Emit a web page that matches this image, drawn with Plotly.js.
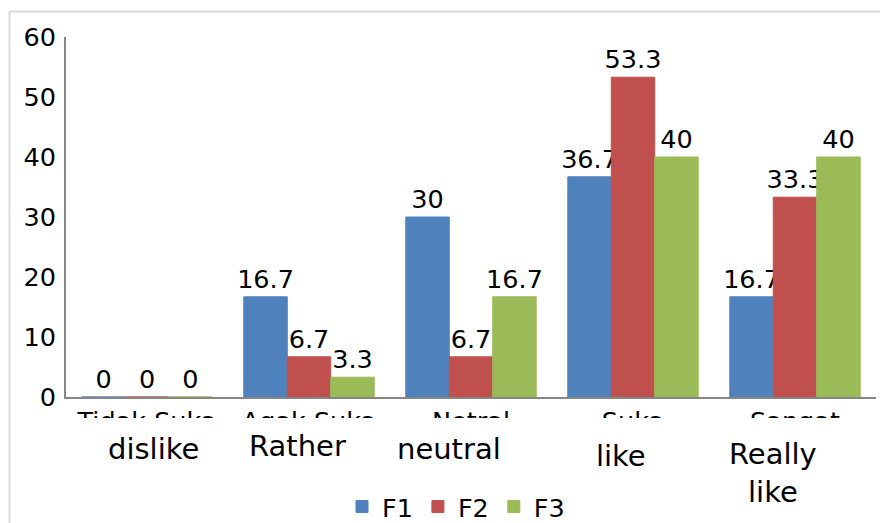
<!DOCTYPE html>
<html>
<head>
<meta charset="utf-8">
<script src="https://cdn.plot.ly/plotly-3.0.1.min.js"></script>
<style>
  html, body { margin: 0; padding: 0; background: #fff; }
  #chart { width: 880px; height: 523px; }
</style>
</head>
<body>
<div id="chart"></div>
<script>
// Categories (original Indonesian tick labels) and English overlay labels
const categories = ["Tidak Suka", "Agak Suka", "Netral", "Suka", "Sangat<br>Suka"];
const englishLabels = ["dislike", "Rather", "neutral", "like", "Really<br>like"];
const seriesNames = ["F1", "F2", "F3"];
const f1Values = [0, 16.7, 30, 36.7, 16.7];
const f2Values = [0, 6.7, 6.7, 53.3, 33.3];
const f3Values = [0, 3.3, 16.7, 40, 40];
const yTickValues = [0, 10, 20, 30, 40, 50, 60];

const colors = ["#4F81BD", "#C0504D", "#9BBB59"];
const allValues = [f1Values, f2Values, f3Values];
const font = "DejaVu Sans, Verdana, sans-serif";

const traces = allValues.map((vals, i) => ({
  type: "bar",
  name: seriesNames[i],
  x: categories,
  y: vals,
  marker: { color: colors[i], line: { color: colors[i], width: 1 } },
  text: vals.map(v => String(v)),
  textposition: "outside",
  textfont: { family: font, size: 25.5, color: "#000" },
  constraintext: "none",
  cliponaxis: false,
  hoverinfo: "x+y+name"
}));

// English label positions (pixels in the 880x523 page) converted to paper
const L = 66, W = 810, T = 37, H = 360;
const px2x = px => (px - L) / W;
const px2y = py => 1 - (py - T) / H;
const engPos = [[153, 449], [297, 446], [449, 449], [621, 456], [773, 473]];

const annotations = englishLabels.map((lab, i) => ({
  text: lab,
  xref: "paper", yref: "paper",
  x: px2x(engPos[i][0]), y: px2y(engPos[i][1]),
  xanchor: "center", yanchor: "middle",
  showarrow: false,
  font: { family: font, size: 29, color: "#000" }
}));

const layout = {
  width: 880, height: 523,
  margin: { l: L, r: 880 - L - W, t: T, b: 523 - T - H, autoexpand: false },
  paper_bgcolor: "#fff", plot_bgcolor: "#fff",
  font: { family: font, size: 25.5, color: "#000" },
  barmode: "group",
  bargap: 0.195,
  bargroupgap: 0,
  showlegend: true,
  legend: {
    orientation: "h",
    x: px2x(342), xanchor: "left",
    y: px2y(507), yanchor: "middle",
    font: { family: font, size: 25.5, color: "#000" },
    itemwidth: 30,
    tracegroupgap: 0,
    traceorder: "normal"
  },
  xaxis: {
    type: "category",
    showline: true, linecolor: "#868686", linewidth: 2,
    ticks: "", showgrid: false, zeroline: false,
    tickfont: { family: font, size: 25.5, color: "#000" },
    fixedrange: true
  },
  yaxis: {
    range: [0, 60],
    tickvals: yTickValues,
    ticktext: yTickValues.map(String),
    showline: true, linecolor: "#868686", linewidth: 2,
    ticks: "", showgrid: false, zeroline: false,
    ticklabelstandoff: 3,
    tickfont: { family: font, size: 25.5, color: "#000" },
    fixedrange: true
  },
  shapes: [
    // white box covering the lower part of the original tick labels
    { type: "rect", xref: "paper", yref: "paper", layer: "above",
      x0: px2x(20), x1: px2x(885), y0: px2y(418), y1: px2y(540),
      fillcolor: "#fff", line: { width: 0 } },
    // outer chart border (top and left visible)
    { type: "line", xref: "paper", yref: "paper", layer: "above",
      x0: px2x(9.5), x1: px2x(890), y0: px2y(11.5), y1: px2y(11.5),
      line: { color: "#D9D9D9", width: 2 } },
    { type: "line", xref: "paper", yref: "paper", layer: "above",
      x0: px2x(9.5), x1: px2x(9.5), y0: px2y(11.5), y1: px2y(540),
      line: { color: "#D9D9D9", width: 2 } }
  ],
  annotations: annotations
};

Plotly.newPlot("chart", traces, layout, { displayModeBar: false, responsive: false });
</script>
</body>
</html>
